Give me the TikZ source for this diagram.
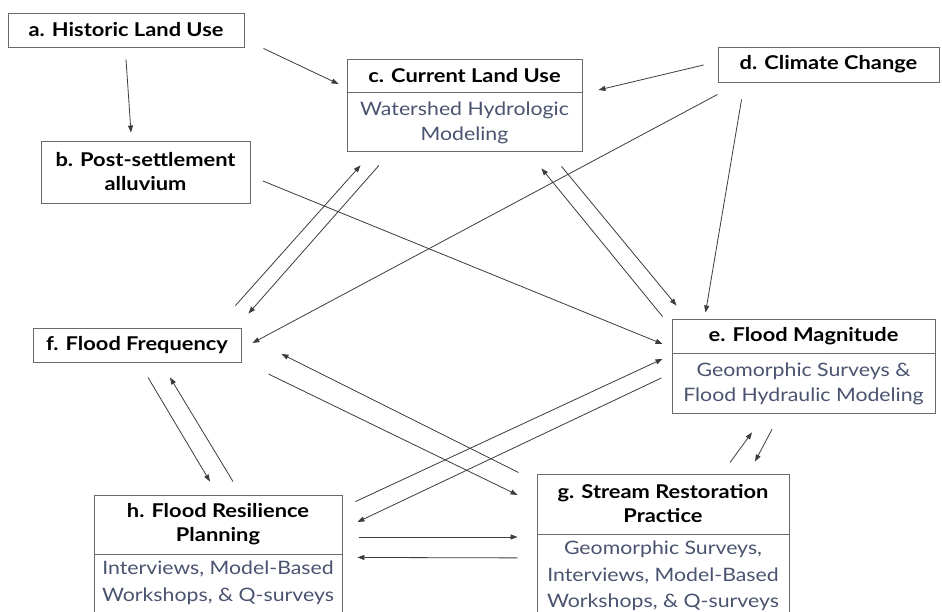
\documentclass[tikz,border=0pt]{standalone}
\usepackage{fontspec}
\setmainfont{Lato}[FakeStretch=1.15]
\usetikzlibrary{calc,arrows.meta}
\definecolor{subtxt}{RGB}{74,84,112}
\definecolor{boxedge}{RGB}{105,105,105}
\definecolor{conn}{RGB}{60,60,60}
\tikzset{
  headbox/.style={draw=boxedge, line width=0.9pt, fill=white, align=center, inner sep=0pt,
    font=\bfseries\fontsize{19}{24}\selectfont, text=black},
  bodybox/.style={draw=boxedge, line width=0.9pt, fill=white, align=center, inner sep=0pt,
    font=\fontsize{18.5}{25}\selectfont, text=subtxt},
  link/.style={draw=conn, line width=0.8pt, -{Triangle[length=7pt,width=5pt]}}
}
\begin{document}
\begin{tikzpicture}[x=1pt,y=-1pt]
\clip (0,0) rectangle (942,612);
\fill[white] (0,0) rectangle (942,612);
% nodes
\node[headbox, minimum width=236, minimum height=34] (a) at (126,30) {a. Historic Land Use};
\node[headbox, minimum width=209, minimum height=62] (b) at (145.5,172) {b. Post-settlement\\alluvium};
\node[headbox, minimum width=235, minimum height=33] (c) at (464.5,75.5) {c. Current Land Use};
\node[bodybox, minimum width=235, minimum height=59, anchor=north] (cm) at (c.south) {Watershed Hydrologic\\Modeling};
\node[headbox, minimum width=221, minimum height=35] (d) at (828.5,64.5) {d. Climate Change};
\node[headbox, minimum width=263, minimum height=34] (e) at (803.5,336) {e. Flood Magnitude};
\node[bodybox, minimum width=263, minimum height=60, anchor=north] (em) at (e.south) {Geomorphic Surveys \&\\Flood Hydraulic Modeling};
\node[headbox, minimum width=208, minimum height=34] (f) at (137,345) {f. Flood Frequency};
\node[headbox, minimum width=252, minimum height=60] (g) at (663,504) {g. Stream Restoration\\Practice};
\node[bodybox, minimum width=252, minimum height=100, anchor=north, text depth=0pt] (gm) at (g.south) {};
\node[subtxt, font=\fontsize{18.5}{26.5}\selectfont, align=center, anchor=north] (gt) at ([yshift=-3pt]g.south) {Geomorphic Surveys,\\Interviews, Model-Based\\Workshops, \& Q-surveys};
\node[headbox, minimum width=248, minimum height=59] (h) at (218,524.5) {h. Flood Resilience\\Planning};
\node[bodybox, minimum width=248, minimum height=80, anchor=north] (hm) at (h.south) {};
\node[subtxt, font=\fontsize{18.5}{26.5}\selectfont, align=center, anchor=north] (ht) at ([yshift=-3pt]h.south) {Interviews, Model-Based\\Workshops, \& Q-surveys};
% connectors
\draw[link] ($(a.south)+(0,12)$) -- ($(b.north)+(-14.5,-8)$);
\draw[link] ($(a.south east)+(19,1)$) -- ($(c.west)+(-8,8.5)$);
\draw[link] ($(d.west)+(-14,0.5)$) -- ($(c.east)+(16,14.5)$);
\draw[link] ($(d.south west)+(0,12)$) -- ($(f.east)+(11,-2)$);
\draw[link] ($(d.south west)+(24,17)$) -- ($(e.north west)+(34,-6)$);
\draw[link] ($(b.east)+(12.5,9)$) -- ($(e.west)+(-9,8)$);
\draw[link] ($(cm.south)+(-85.5,13)$) -- ($(f.north east)+(7,-14)$);
\draw[link] ($(f.north east)+(-6,-22)$) -- ($(cm.south west)+(14,13)$);
\draw[link] ($(e.north west)+(-9,-2)$) -- ($(cm.south east)+(-41,16)$);
\draw[link] ($(cm.south east)+(-21,14)$) -- ($(e.north west)+(5,-13)$);
\draw[link] ($(g.north west)+(-18,-1)$) -- ($(f.east)+(40,9)$);
\draw[link] ($(f.east)+(27,29)$) -- ($(g.west)+(-19,-9)$);
\draw[link] ($(h.north east)+(13,7)$) -- ($(em.west)+(-9,-25)$);
\draw[link] ($(em.west)+(-10,-6)$) -- ($(h.east)+(15,-2.5)$);
\draw[link] ($(h.east)+(17,12.5)$) -- ($(g.west)+(-19,33)$);
\draw[link] ($(gm.west)+(-19,-27)$) -- ($(hm.north east)+(15,3)$);
\draw[link] ($(f.south)+(11,15)$) -- ($(h.north)+(-8,-13)$);
\draw[link] ($(h.north)+(15,-13)$) -- ($(f.south)+(33,15)$);
\draw[link] ($(g.north)+(67,-11)$) -- ($(em.south)+(-51.5,18)$);
\draw[link] ($(em.south)+(-31.5,15)$) -- ($(g.north)+(92,-12)$);
\end{tikzpicture}
\end{document}
